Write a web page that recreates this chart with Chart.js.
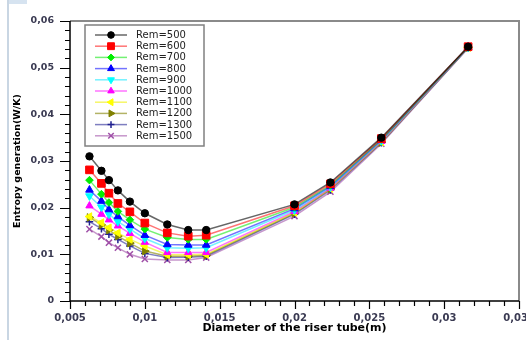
<!DOCTYPE html>
<html lang="en">
<head>
    <meta charset="UTF-8">
    <title>Entropy generation vs riser tube diameter</title>
    <style>
        * { margin: 0; padding: 0; box-sizing: border-box; }
        body { background: #ffffff; width: 526px; height: 340px; overflow: hidden; }
        .frame { position: relative; width: 526px; height: 340px; }
        canvas { display: block; }
    </style>
</head>
<body>
<div class="frame">
    <canvas id="entropyChart" width="526" height="340"></canvas>
</div>

<script src="https://cdn.jsdelivr.net/npm/chart.js"></script>
<script>
    // riser tube diameters (m)
    const diameters = [0.0063, 0.0071, 0.0076, 0.0082, 0.0090, 0.0100, 0.0115, 0.0129, 0.0141, 0.0200, 0.0224, 0.0258, 0.0316];

    // entropy generation (W/K) per Rem
    const rem500  = [0.0310, 0.0279, 0.0259, 0.0237, 0.0213, 0.0188, 0.0164, 0.0152, 0.0152, 0.0207, 0.0254, 0.0350, 0.0545];
    const rem600  = [0.0281, 0.0252, 0.0231, 0.0209, 0.0191, 0.0167, 0.0146, 0.0139, 0.0141, 0.0204, 0.0251, 0.0348, 0.0545];
    const rem700  = [0.0259, 0.0229, 0.0211, 0.0192, 0.0174, 0.0154, 0.0136, 0.0132, 0.0132, 0.0201, 0.0248, 0.0346, 0.0544];
    const rem800  = [0.0238, 0.0214, 0.0196, 0.0181, 0.0162, 0.0141, 0.0121, 0.0120, 0.0120, 0.0198, 0.0246, 0.0345, 0.0544];
    const rem900  = [0.0225, 0.0201, 0.0186, 0.0170, 0.0154, 0.0134, 0.0114, 0.0113, 0.0114, 0.0195, 0.0244, 0.0343, 0.0544];
    const rem1000 = [0.0204, 0.0186, 0.0174, 0.0161, 0.0145, 0.0126, 0.0104, 0.0104, 0.0104, 0.0192, 0.0242, 0.0342, 0.0543];
    const rem1100 = [0.0181, 0.0168, 0.0157, 0.0146, 0.0132, 0.0118, 0.0099, 0.0099, 0.0100, 0.0190, 0.0241, 0.0341, 0.0543];
    const rem1200 = [0.0179, 0.0163, 0.0152, 0.0139, 0.0124, 0.0107, 0.0096, 0.0096, 0.0098, 0.0188, 0.0240, 0.0340, 0.0543];
    const rem1300 = [0.0170, 0.0155, 0.0143, 0.0132, 0.0118, 0.0102, 0.0093, 0.0094, 0.0096, 0.0186, 0.0238, 0.0339, 0.0542];
    const rem1500 = [0.0154, 0.0138, 0.0125, 0.0114, 0.0100, 0.0090, 0.0088, 0.0088, 0.0093, 0.0182, 0.0234, 0.0337, 0.0542];

    const seriesLabels = ['Rem=500', 'Rem=600', 'Rem=700', 'Rem=800', 'Rem=900', 'Rem=1000', 'Rem=1100', 'Rem=1200', 'Rem=1300', 'Rem=1500'];
    const seriesValues = [rem500, rem600, rem700, rem800, rem900, rem1000, rem1100, rem1200, rem1300, rem1500];

    // axis ticks
    const xMajorTicks = [0.005, 0.01, 0.015, 0.02, 0.025, 0.03, 0.035];
    const yMajorTicks = [0, 0.01, 0.02, 0.03, 0.04, 0.05, 0.06];

    // marker look for each series
    const markerColors = ['#000000', '#ff0000', '#00ee00', '#0000ff', '#00ffff', '#ff00ff', '#ffff00', '#808000', '#202090', '#a050a8'];
    const lineColors = ['rgba(0,0,0,0.6)', 'rgba(255,0,0,0.55)', 'rgba(0,230,0,0.55)', 'rgba(0,0,255,0.55)', 'rgba(0,230,255,0.55)',
                        'rgba(255,0,255,0.55)', 'rgba(240,240,0,0.6)', 'rgba(128,128,0,0.6)', 'rgba(40,40,150,0.6)', 'rgba(160,80,168,0.6)'];
    const markerStyles = ['circle', 'rect', 'rectRot', 'triangle', 'triangle', 'triangle', 'triangle', 'triangle', 'cross', 'crossRot'];
    const markerRotation = [0, 0, 0, 0, 180, 0, 270, 90, 0, 0];
    const markerRadius = [3.7, 5.4, 3.8, 4.4, 4.4, 4.2, 4.4, 4.4, 3.8, 4.3];

    const fmt = v => parseFloat(Number(v).toFixed(4)).toString().replace('.', ',');

    const datasets = seriesLabels.map((label, i) => ({
        label: label,
        data: diameters.map((d, j) => ({ x: d, y: seriesValues[i][j] })),
        borderColor: lineColors[i],
        borderWidth: 1.5,
        pointStyle: markerStyles[i],
        pointRotation: markerRotation[i],
        pointRadius: markerRadius[i],
        pointBackgroundColor: markerColors[i],
        pointBorderColor: markerColors[i],
        pointBorderWidth: (markerStyles[i] === 'cross' || markerStyles[i] === 'crossRot') ? 1.5 : 1,
        tension: 0,
        fill: false
    }));

    // Axis lines, minor/major ticks, frame and the boxed legend
    const decoPlugin = {
        id: 'deco',
        beforeDraw(chart) {
            const ctx = chart.ctx;
            ctx.save();
            ctx.fillStyle = '#ffffff';
            ctx.fillRect(0, 0, chart.width, chart.height);
            // thin window edge on the left
            ctx.fillStyle = '#c9d6e3';
            ctx.fillRect(7, 0, 2, chart.height);
            ctx.fillStyle = '#d6e3f0';
            ctx.fillRect(9, 0, 18, 4);
            ctx.restore();
        },
        afterDatasetsDraw(chart) {
            const ctx = chart.ctx;
            const a = chart.chartArea;
            const xs = chart.scales.x;
            const ys = chart.scales.y;
            ctx.save();

            // frame top/right (grey)
            ctx.strokeStyle = '#8a8a8a';
            ctx.lineWidth = 2;
            ctx.beginPath();
            ctx.moveTo(a.left, a.top);
            ctx.lineTo(a.right, a.top);
            ctx.lineTo(a.right, a.bottom);
            ctx.stroke();

            // axes
            ctx.strokeStyle = '#000000';
            ctx.lineWidth = 1.5;
            ctx.beginPath();
            ctx.moveTo(a.left, a.top);
            ctx.lineTo(a.left, a.bottom);
            ctx.lineTo(a.right, a.bottom);
            ctx.stroke();

            // x ticks every 0.001
            ctx.lineWidth = 1.2;
            ctx.beginPath();
            for (let i = 5; i <= 35; i++) {
                const px = Math.round(xs.getPixelForValue(i / 1000)) + 0.5;
                const len = i % 5 === 0 ? 8 : 5;
                ctx.moveTo(px, a.bottom);
                ctx.lineTo(px, a.bottom + len);
            }
            // y ticks every 0.002
            for (let i = 0; i <= 30; i++) {
                const py = Math.round(ys.getPixelForValue(i * 0.002)) + 0.5;
                const len = i % 5 === 0 ? 10 : 5;
                ctx.moveTo(a.left, py);
                ctx.lineTo(a.left - len, py);
            }
            ctx.stroke();

            // legend box
            const bx = 85, by = 25, bw = 119, bh = 121;
            ctx.fillStyle = '#ffffff';
            ctx.fillRect(bx, by, bw, bh);
            ctx.strokeStyle = '#808080';
            ctx.lineWidth = 1.5;
            ctx.strokeRect(bx, by, bw, bh);

            ctx.font = '10px "DejaVu Sans", Verdana, sans-serif';
            ctx.textBaseline = 'middle';
            ctx.textAlign = 'left';
            chart.data.datasets.forEach((ds, i) => {
                const ry = 35 + i * 11.2;
                ctx.strokeStyle = ds.borderColor;
                ctx.lineWidth = 1.5;
                ctx.beginPath();
                ctx.moveTo(95, ry);
                ctx.lineTo(127, ry);
                ctx.stroke();
                ctx.fillStyle = ds.pointBackgroundColor;
                ctx.strokeStyle = ds.pointBorderColor;
                ctx.lineWidth = ds.pointBorderWidth;
                if (Chart.helpers && Chart.helpers.drawPoint) {
                    Chart.helpers.drawPoint(ctx, {
                        pointStyle: ds.pointStyle,
                        rotation: ds.pointRotation,
                        radius: ds.pointRadius * 0.9,
                        borderWidth: ds.pointBorderWidth
                    }, 111, ry);
                }
                ctx.fillStyle = '#222222';
                ctx.fillText(ds.label, 136, ry + 0.5);
            });
            ctx.restore();
        }
    };

    const ctx = document.getElementById('entropyChart').getContext('2d');
    const entropyChart = new Chart(ctx, {
        type: 'line',
        data: { datasets: datasets },
        options: {
            responsive: false,
            animation: false,
            layout: { padding: { top: 21, right: 7, bottom: 0, left: 0 } },
            plugins: {
                legend: { display: false },
                tooltip: { enabled: false }
            },
            scales: {
                x: {
                    type: 'linear',
                    min: 0.005,
                    max: 0.035,
                    afterBuildTicks: s => { s.ticks = xMajorTicks.map(v => ({ value: v })); },
                    afterFit: s => { s.height = 39; s.paddingLeft = 0; s.paddingRight = 0; },
                    grid: { display: false, drawTicks: false },
                    border: { display: false },
                    ticks: {
                        maxRotation: 0,
                        autoSkip: false,
                        padding: 11,
                        color: '#3a3a52',
                        font: { family: '"DejaVu Sans", Verdana, sans-serif', size: 10, weight: 'bold' },
                        callback: v => fmt(v)
                    },
                    title: {
                        display: true,
                        text: 'Diameter of the riser tube(m)',
                        color: '#000000',
                        padding: { top: 0, bottom: 5 },
                        font: { family: '"DejaVu Sans", Verdana, sans-serif', size: 11, weight: 'bold' }
                    }
                },
                y: {
                    type: 'linear',
                    min: 0,
                    max: 0.06,
                    afterBuildTicks: s => { s.ticks = yMajorTicks.map(v => ({ value: v })); },
                    afterFit: s => { s.width = 70; s.paddingTop = 0; s.paddingBottom = 0; },
                    grid: { display: false, drawTicks: false },
                    border: { display: false },
                    ticks: {
                        autoSkip: false,
                        padding: 16,
                        color: '#3a3a52',
                        font: { family: '"DejaVu Sans", Verdana, sans-serif', size: 9.5, weight: 'bold' },
                        callback: v => fmt(v)
                    },
                    title: {
                        display: true,
                        text: 'Entropy generation(W/K)',
                        color: '#000000',
                        padding: { top: 12, bottom: 0 },
                        font: { family: '"DejaVu Sans", Verdana, sans-serif', size: 9.5, weight: 'bold' }
                    }
                }
            }
        },
        plugins: [decoPlugin]
    });
</script>
</body>
</html>
